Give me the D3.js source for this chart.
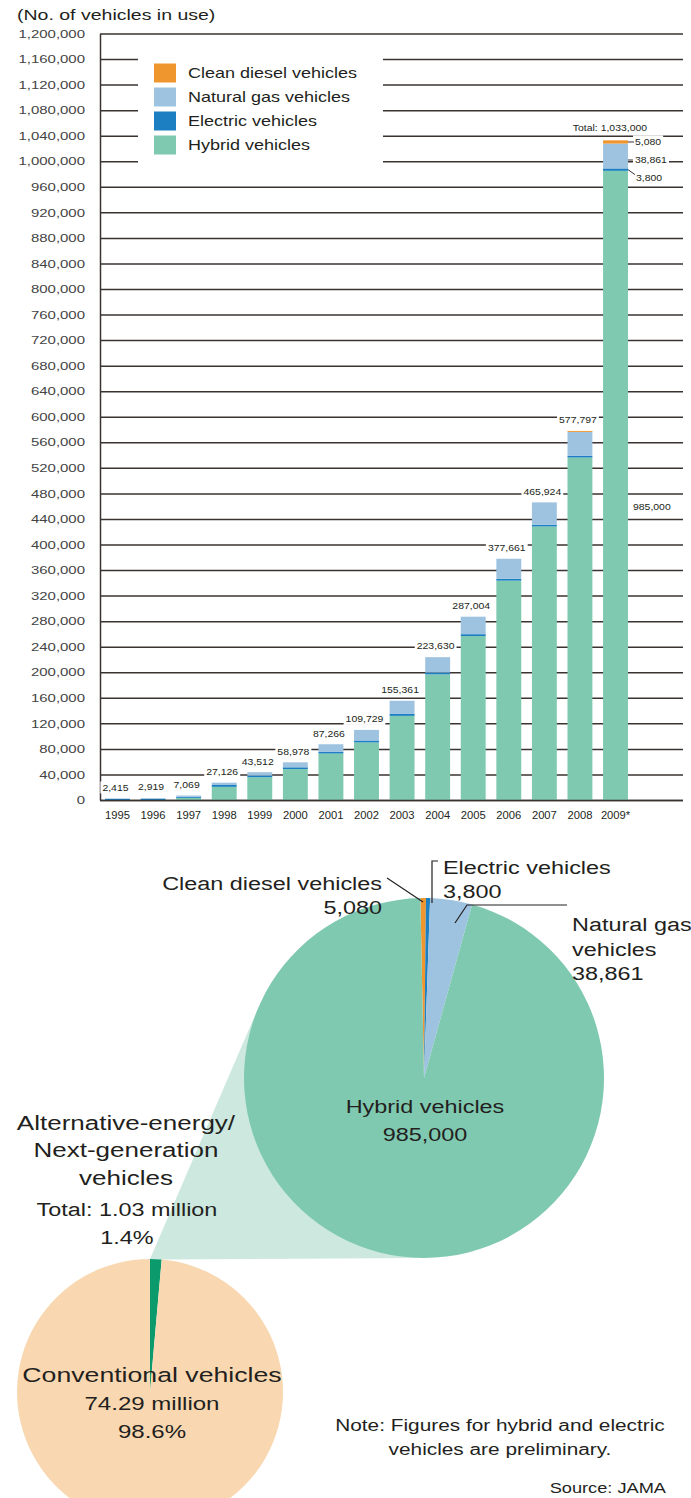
<!DOCTYPE html>
<html>
<head>
<meta charset="utf-8">
<script src="https://cdn.jsdelivr.net/npm/d3@7"></script>
<style>
  body { margin: 0; background: #fff; }
  svg text { font-family: "Liberation Sans", Arial, Helvetica, sans-serif; fill: #231f20; }
</style>
</head>
<body>
<svg id="chart" width="691" height="1498"></svg>
<script>
// vehicles in use by year
const years = ['1995', '1996', '1997', '1998', '1999', '2000', '2001', '2002', '2003', '2004', '2005', '2006', '2007', '2008', '2009*'];
const hybrid      = [0, 0, 3400, 20600, 35660, 48367, 72754, 90168, 131723, 196722, 256704, 343399, 428281, 536197, 985000];
const electric    = [1800, 1708, 1576, 2886, 2600, 2800, 2500, 3000, 3000, 2900, 2900, 2800, 2600, 2500, 3800];
const naturalGas  = [615, 1211, 2093, 3640, 5252, 7811, 12012, 16561, 20638, 24008, 27400, 31462, 35043, 37600, 38861];
const cleanDiesel = [0, 0, 0, 0, 0, 0, 0, 0, 0, 0, 0, 0, 0, 1500, 5080];
const totals      = [2415, 2919, 7069, 27126, 43512, 58978, 87266, 109729, 155361, 223630, 287004, 377661, 465924, 577797, 1033000];
const yTicks = d3.range(0, 1200001, 40000);

// 2009 breakdown for the pie
const pieTypes  = ['Clean diesel vehicles', 'Electric vehicles', 'Natural gas vehicles', 'Hybrid vehicles'];
const pieValues = [5080, 3800, 38861, 985000];
// share of all vehicles in use (%)
const shareNames  = ['Alternative-energy/Next-generation vehicles', 'Conventional vehicles'];
const shareValues = [1.4, 98.6];

const color = {
  hybrid: '#7fc9b0',
  electric: '#1b7fc2',
  naturalGas: '#9ec3e0',
  cleanDiesel: '#f0962f'
};
const gridColor = '#3a3330';

const svg = d3.select('#chart');
const fmt = d3.format(',');

// the source type is set wide, so stretch the glyphs to match
function stretch(sel, k) {
  sel.each(function () {
    const len = this.getComputedTextLength();
    d3.select(this).attr('textLength', len * k).attr('lengthAdjust', 'spacingAndGlyphs');
  });
}

function label(g, str, x, y, size, anchor, k) {
  const t = g.append('text')
    .attr('x', x)
    .attr('y', y + size * 0.35)
    .attr('font-size', size)
    .attr('text-anchor', anchor || 'start')
    .text(str);
  stretch(t, k || 1.3);
  return t;
}

// ---------- bar chart ----------
const x = d3.scaleBand().domain(years).range([99.7, 633.3]).paddingInner(0.3).paddingOuter(0.15);
const y = d3.scaleLinear().domain([0, 1200000]).range([800, 33.5]);

label(svg, '(No. of vehicles in use)', 17, 15, 15, 'start', 1.3);

const yAxis = svg.append('g')
  .attr('transform', 'translate(100,0)')
  .call(d3.axisLeft(y).tickValues(yTicks).tickSize(-583).tickSizeOuter(0).tickPadding(15).tickFormat(fmt));
yAxis.attr('font-size', 11.5).attr('font-family', null);
yAxis.selectAll('line').attr('stroke', gridColor).attr('stroke-width', 1.5);
yAxis.select('.domain').attr('stroke', gridColor).attr('stroke-width', 1.5);
yAxis.selectAll('text').style('fill', '#444');
stretch(yAxis.selectAll('text'), 1.3);

// legend sits on a white panel that cuts the grid lines
svg.append('rect').attr('x', 138).attr('y', 47).attr('width', 245).attr('height', 124).attr('fill', '#fff');
const legendKeys = ['cleanDiesel', 'naturalGas', 'electric', 'hybrid'];
const legendNames = ['Clean diesel vehicles', 'Natural gas vehicles', 'Electric vehicles', 'Hybrid vehicles'];
const legend = svg.append('g').attr('transform', 'translate(154,73)');
legendKeys.forEach((k, i) => {
  legend.append('rect').attr('x', 0).attr('y', i * 24 - 9.5).attr('width', 22).attr('height', 19).attr('fill', color[k]);
  label(legend, legendNames[i], 34, i * 24, 15, 'start', 1.2);
});

const rows = years.map((yr, i) => ({
  year: yr,
  hybrid: hybrid[i],
  electric: electric[i],
  naturalGas: naturalGas[i],
  cleanDiesel: cleanDiesel[i]
}));
const series = d3.stack().keys(['hybrid', 'electric', 'naturalGas', 'cleanDiesel'])(rows);

svg.append('g')
  .selectAll('g')
  .data(series)
  .join('g')
  .attr('fill', d => color[d.key])
  .selectAll('rect')
  .data(d => d)
  .join('rect')
  .attr('x', d => x(d.data.year))
  .attr('width', x.bandwidth())
  .attr('y', d => y(d[1]))
  .attr('height', d => y(d[0]) - y(d[1]));

// baseline on top of the bars
svg.append('line')
  .attr('x1', 100).attr('x2', 683)
  .attr('y1', y(0) + 0.5).attr('y2', y(0) + 0.5)
  .attr('stroke', gridColor).attr('stroke-width', 1.5);

const xAxis = svg.append('g')
  .attr('transform', `translate(0,${y(0)})`)
  .call(d3.axisBottom(x).tickSize(0).tickPadding(12));
xAxis.select('.domain').remove();
xAxis.attr('font-size', 10).attr('font-family', null);
stretch(xAxis.selectAll('text'), 1.12);

// total labels over the bars, each on a white patch
const labelBg = svg.append('g');
const labelFg = svg.append('g');
function boxed(str, cx, cy, anchor) {
  const t = label(labelFg, str, cx, cy, 9.5, anchor, 1.1);
  const w = +t.attr('textLength');
  const left = anchor === 'start' ? cx : cx - w / 2;
  labelBg.append('rect').attr('x', left - 2).attr('y', cy - 6).attr('width', w + 4).attr('height', 12).attr('fill', '#fff');
  return t;
}
years.forEach((yr, i) => {
  if (i === years.length - 1) return;
  boxed(fmt(totals[i]), x(yr) + x.bandwidth() / 2 - 2, y(totals[i]) - 11, 'middle');
});

// 2009 call-outs
const last = years.length - 1;
const bx = x(years[last]) + x.bandwidth();
const h9 = hybrid[last], e9 = electric[last], n9 = naturalGas[last], c9 = cleanDiesel[last];
boxed('Total: ' + fmt(totals[last]), bx - 18, y(totals[last]) - 12, 'middle');
const lead = svg.append('g').attr('stroke', gridColor).attr('stroke-width', 1);
lead.append('line').attr('x1', bx).attr('x2', bx + 6).attr('y1', y(h9 + e9 + n9 + c9 / 2)).attr('y2', y(h9 + e9 + n9 + c9 / 2));
boxed(fmt(c9), bx + 7, y(h9 + e9 + n9 + c9) + 1, 'start');
lead.append('line').attr('x1', bx).attr('x2', bx + 5).attr('y1', y(h9 + e9 + n9 / 2) + 4).attr('y2', y(h9 + e9 + n9 / 2) + 4);
boxed(fmt(n9), bx + 7, y(h9 + e9 + n9 / 2) + 4, 'start');
lead.append('line').attr('x1', bx).attr('x2', bx + 7).attr('y1', y(h9 + e9 / 2)).attr('y2', y(h9 + e9 / 2) + 5);
boxed(fmt(e9), bx + 8, y(h9 + e9 / 2) + 8, 'start');
boxed(fmt(h9), bx + 5, y(h9 / 2) + 21, 'start');

// ---------- pies ----------
const big = { cx: 424, cy: 1078, r: 180 };
const small = { cx: 150, cy: 1392, r: 133 };

const smallArcs = d3.pie().sort(null)(shareValues);
const bigArcs = d3.pie().sort(null).startAngle(-0.02).endAngle(2 * Math.PI - 0.02)(pieValues);

// light band linking the small wedge to the big pie
function onCircle(c, a) { return [c.cx + c.r * Math.sin(a), c.cy - c.r * Math.cos(a)]; }
function tangent(p, c, side) {
  const dx = p[0] - c.cx, dy = p[1] - c.cy;
  const d = Math.hypot(dx, dy);
  const a = Math.atan2(dy, dx) + side * Math.acos(c.r / d);
  return [c.cx + c.r * Math.cos(a), c.cy + c.r * Math.sin(a)];
}
const p1 = onCircle(small, smallArcs[0].startAngle);
const p2 = onCircle(small, smallArcs[0].endAngle);
svg.append('path')
  .attr('d', d3.line()([p1, tangent(p1, big, 1), [big.cx, big.cy], tangent(p2, big, -1), p2]) + 'Z')
  .attr('fill', '#cde9df');

svg.append('g')
  .attr('transform', `translate(${small.cx},${small.cy})`)
  .selectAll('path')
  .data(smallArcs)
  .join('path')
  .attr('d', d3.arc().innerRadius(0).outerRadius(small.r))
  .attr('fill', (d, i) => ['#0a9a6c', '#f9d8b1'][i]);

const pieColors = [color.cleanDiesel, color.electric, color.naturalGas, '#80c9b1'];
svg.append('g')
  .attr('transform', `translate(${big.cx},${big.cy})`)
  .selectAll('path')
  .data(bigArcs)
  .join('path')
  .attr('d', d3.arc().innerRadius(0).outerRadius(big.r))
  .attr('fill', (d, i) => pieColors[i]);

// pie labels
const pl = svg.append('g');
label(pl, 'Clean diesel vehicles', 382, 884, 18, 'end');
label(pl, fmt(pieValues[0]), 382, 908, 18, 'end');
label(pl, 'Electric vehicles', 443, 868, 18, 'start');
label(pl, fmt(pieValues[1]), 443, 892, 18, 'start');
label(pl, 'Natural gas', 572, 925, 18, 'start');
label(pl, 'vehicles', 572, 950, 18, 'start');
label(pl, fmt(pieValues[2]), 572, 974, 18, 'start');
label(pl, 'Hybrid vehicles', big.cx + 1, 1107, 18, 'middle');
label(pl, fmt(pieValues[3]), big.cx + 1, 1135, 18, 'middle');

label(pl, 'Alternative-energy/', 126, 1123, 20, 'middle');
label(pl, 'Next-generation', 126, 1150, 20, 'middle');
label(pl, 'vehicles', 126, 1178, 20, 'middle');
label(pl, 'Total: 1.03 million', 127, 1210, 18, 'middle');
label(pl, shareValues[0] + '%', 127, 1238, 18, 'middle');

label(pl, 'Conventional vehicles', 152, 1375, 20.5, 'middle');
label(pl, '74.29 million', 152, 1404, 18.5, 'middle');
label(pl, shareValues[1] + '%', 152, 1432, 18.5, 'middle');

label(pl, 'Note: Figures for hybrid and electric', 500, 1425, 16, 'middle');
label(pl, 'vehicles are preliminary.', 500, 1449, 16, 'middle');
label(pl, 'Source: JAMA', 666, 1488, 14, 'end');

// pie leader lines
const pieLead = svg.append('g').attr('fill', 'none').attr('stroke', '#231f20').attr('stroke-width', 1.2);
pieLead.append('path').attr('d', d3.line()([[387, 878], [423, 902]]));
pieLead.append('path').attr('d', d3.line()([[438, 861], [432, 861], [432, 903]]));
pieLead.append('path').attr('d', d3.line()([[567, 905], [467, 905], [455, 923]]));
</script>
</body>
</html>
